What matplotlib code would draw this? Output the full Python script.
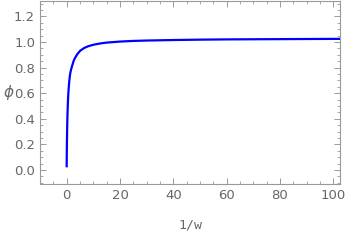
import matplotlib
matplotlib.use("Agg")
import matplotlib.pyplot as plt
from matplotlib.ticker import MultipleLocator

# values
inv_w = [0, 0.05, 0.1, 0.2, 0.3, 0.45, 0.6, 0.8, 1.0, 1.3, 1.6, 2.0, 2.5, 3.0,
         4.0, 5.0, 6.5, 8.0, 10, 12.5, 15, 20, 25, 30, 40, 50, 60, 70, 80, 90, 100, 103]
phi = [0.02, 0.14, 0.22, 0.34, 0.43, 0.52, 0.59, 0.65, 0.70, 0.75, 0.78, 0.81, 0.845, 0.87,
       0.905, 0.93, 0.952, 0.966, 0.978, 0.988, 0.995, 1.003, 1.008, 1.011, 1.015, 1.018,
       1.020, 1.021, 1.022, 1.023, 1.024, 1.024]

frame_col = "#999999"
text_col = "#666666"

fig = plt.figure(figsize=(3.47, 2.42), dpi=100)
ax = fig.add_axes([40 / 347, 1 - 184 / 242, 300 / 347, 183 / 242])

ax.plot(inv_w, phi, color="#0000ff", lw=1.6, solid_capstyle="butt")

ax.set_xlim(-10, 102.5)
ax.set_ylim(-0.11, 1.32)

ax.xaxis.set_major_locator(MultipleLocator(20))
ax.xaxis.set_minor_locator(MultipleLocator(5))
ax.yaxis.set_major_locator(MultipleLocator(0.2))
ax.yaxis.set_minor_locator(MultipleLocator(0.05))
ax.yaxis.set_major_formatter(plt.FuncFormatter(lambda v, p: f"{v:.1f}"))

for s in ax.spines.values():
    s.set_color(frame_col)
    s.set_linewidth(0.8)

ax.tick_params(which="both", direction="in", top=True, right=True,
               color=frame_col, labelcolor=text_col, labelsize=9.5)
ax.tick_params(which="major", length=4, width=0.7)
ax.tick_params(which="minor", length=2, width=0.6)

ax.set_xlabel("1/w", family="DejaVu Sans Mono", color=text_col, fontsize=9.5, labelpad=12)
ax.set_ylabel(r"$\phi$", color=text_col, fontsize=11, rotation=0, labelpad=4, va="center")

fig.savefig("out.png", dpi=100)
